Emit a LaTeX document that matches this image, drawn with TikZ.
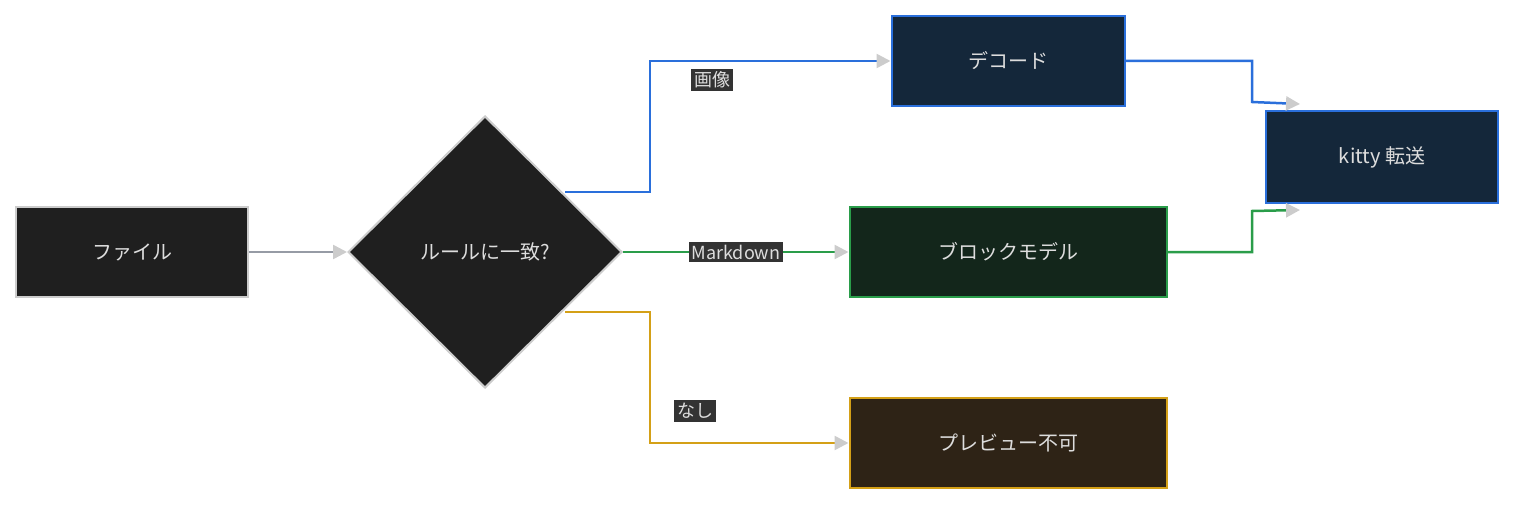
\documentclass[tikz,border=0pt]{standalone}
\usepackage{fontspec}
\setmainfont{Noto Sans CJK JP}
\usetikzlibrary{shapes.geometric,arrows.meta}
\definecolor{txt}{HTML}{DDDDDD}
\definecolor{grayb}{HTML}{CCCCCC}
\definecolor{blueb}{HTML}{2A6FDB}
\definecolor{greenb}{HTML}{2A9D4A}
\definecolor{goldb}{HTML}{D4A017}
\begin{document}
\begin{tikzpicture}[x=1pt,y=-1pt,
  box/.style={draw, line width=2pt, minimum height=90pt, text=txt, font=\fontsize{20}{24}\selectfont, inner sep=0},
  lab/.style={fill=black!80, text=txt, font=\fontsize{18}{20}\selectfont, inner sep=3pt},
  edge/.style={line width=2.5pt, -{Triangle[length=14pt,width=14pt,color=grayb]}}]
\useasboundingbox (0,0) rectangle (1514,505);
\node[box, draw=grayb, fill=black!88, minimum width=232pt] (f) at (132,252) {ファイル};
\node[diamond, draw=grayb, line width=2pt, fill=black!88, minimum width=274pt, minimum height=272pt, text=txt, font=\fontsize{20}{24}\selectfont, inner sep=0] (d) at (485,252) {ルールに一致?};
\node[box, draw=blueb, fill={rgb,255:red,20;green,39;blue,58}, minimum width=233pt] (dec) at (1008,61) {デコード};
\node[box, draw=blueb, fill={rgb,255:red,20;green,39;blue,58}, minimum width=232pt, minimum height=91pt] (k) at (1382,157) {kitty 転送};
\node[box, draw=greenb, fill={rgb,255:red,19;green,38;blue,27}, minimum width=317pt] (b) at (1008,252) {ブロックモデル};
\node[box, draw=goldb, fill={rgb,255:red,46;green,35;blue,22}, minimum width=317pt] (p) at (1008,443) {プレビュー不可};
\coordinate (ku) at (1300,104);
\coordinate (kl) at (1300,210);
\draw[edge, draw={rgb,255:red,150;green,155;blue,165}] (f) -- (d);
\draw[edge, draw=blueb] (565,192) -- (650,192) -- (650,61) -- (dec.west);
\draw[edge, draw=greenb] (d.east) -- (b.west);
\draw[edge, draw=goldb] (565,312) -- (650,312) -- (650,443) -- (p.west);
\draw[edge, draw=blueb] (dec.east) -- (1252,61) -- (1252,102) -- (ku);
\draw[edge, draw=greenb] (b.east) -- (1252,252) -- (1252,211) -- (kl);
\node[lab] (l1) at (712,80) {画像};
\node[lab] (l2) at (736,252) {Markdown};
\node[lab] (l3) at (695,411) {なし};
\end{tikzpicture}
\end{document}
